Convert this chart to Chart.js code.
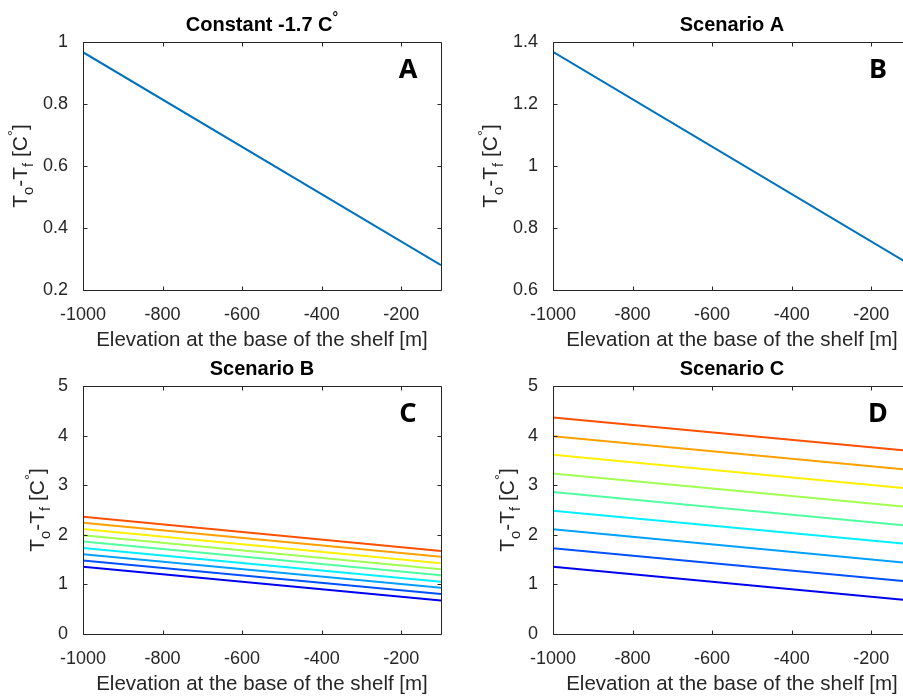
<!DOCTYPE html>
<html>
<head>
<meta charset="utf-8">
<script src="https://cdn.jsdelivr.net/npm/chart.js@4"></script>
<style>
  html, body { margin: 0; padding: 0; background: #fff; overflow: hidden; width: 903px; height: 697px; }
  .panel { position: absolute; width: 450px; height: 360px; }
</style>
</head>
<body>
<div class="panel" style="left:0;top:0"><canvas id="chartA" width="450" height="360"></canvas></div>
<div class="panel" style="left:470px;top:0"><canvas id="chartB" width="450" height="360"></canvas></div>
<div class="panel" style="left:0;top:344px"><canvas id="chartC" width="450" height="360"></canvas></div>
<div class="panel" style="left:470px;top:344px"><canvas id="chartD" width="450" height="360"></canvas></div>
<script>
// elevation at the base of the shelf (x), the lines are straight so the two ends are enough
const elevation = [-1000, -100];
const xTicks = [-1000, -800, -600, -400, -200];

// panel A : constant -1.7 C
const constantDiff = [0.967, 0.28];
const yTicksA = [0.2, 0.4, 0.6, 0.8, 1];

// panel B : scenario A
const scenarioADiff = [1.368, 0.68];
const yTicksB = [0.6, 0.8, 1, 1.2, 1.4];

// panels C and D : 9 lines each, value at -1000 m and at -100 m
const scenarioBDeep    = [1.354, 1.480, 1.609, 1.736, 1.863, 1.990, 2.118, 2.245, 2.365];
const scenarioBShallow = [0.676, 0.804, 0.931, 1.052, 1.186, 1.307, 1.428, 1.555, 1.675];
const scenarioCDeep    = [1.354, 1.730, 2.112, 2.486, 2.862, 3.238, 3.612, 3.988, 4.364];
const scenarioCShallow = [0.676, 1.053, 1.427, 1.808, 2.178, 2.553, 2.930, 3.305, 3.687];
const yTicksCD = [0, 1, 2, 3, 4, 5];

const lineColors = ['#0000f0', '#0050ff', '#00a0ff', '#00f0ff', '#50ffa0',
                    '#a0ff50', '#fff000', '#ffa000', '#ff5000'];
const axisColor = '#262626';
const tickFont = { family: 'Liberation Sans, Arial, sans-serif', size: 18 };

// draws text with sub/superscript parts
function drawRich(ctx, parts, x, y, size, bold) {
  const fontOf = (s) => (bold ? 'bold ' : '') + s + 'px "Liberation Sans", Arial, sans-serif';
  let total = 0;
  parts.forEach(p => {
    ctx.font = fontOf(p.sub || p.sup ? size * 0.7 : size);
    p.w = ctx.measureText(p.t).width;
    total += p.w;
  });
  let cx = x - total / 2;
  ctx.textAlign = 'left';
  ctx.textBaseline = 'alphabetic';
  parts.forEach(p => {
    ctx.font = fontOf(p.sub || p.sup ? size * 0.7 : size);
    let dy = 0;
    if (p.sub) dy = size * 0.3;
    if (p.sup) dy = -size * 0.45;
    ctx.fillText(p.t, cx, y + dy);
    cx += p.w;
  });
}

const yLabelParts = [{ t: 'T' }, { t: 'o', sub: true }, { t: '-T' }, { t: 'f', sub: true },
                     { t: ' [C' }, { t: '°', sup: true }, { t: ']' }];

const framePlugin = {
  id: 'frame',
  afterDraw(chart, args, opts) {
    const { ctx, chartArea: a, scales: { x, y } } = chart;
    ctx.save();
    ctx.strokeStyle = axisColor;
    ctx.lineWidth = 1;
    const L = Math.round(a.left) + 0.5, R = Math.round(a.right) + 0.5;
    const T = Math.round(a.top) + 0.5, B = Math.round(a.bottom) + 0.5;
    ctx.beginPath();
    ctx.rect(L, T, R - L, B - T);
    x.ticks.forEach(t => {
      const px = Math.round(x.getPixelForValue(t.value)) + 0.5;
      ctx.moveTo(px, B); ctx.lineTo(px, B - 4);
      ctx.moveTo(px, T); ctx.lineTo(px, T + 4);
    });
    y.ticks.forEach(t => {
      const py = Math.round(y.getPixelForValue(t.value)) + 0.5;
      ctx.moveTo(L, py); ctx.lineTo(L + 4, py);
      ctx.moveTo(R, py); ctx.lineTo(R - 4, py);
    });
    ctx.stroke();

    const midX = (a.left + a.right) / 2;
    // title
    ctx.fillStyle = '#000';
    drawRich(ctx, opts.title, midX, a.top - 11, 20, true);
    // x label
    ctx.fillStyle = axisColor;
    drawRich(ctx, [{ t: 'Elevation at the base of the shelf [m]' }], midX, a.bottom + 56, 20.5, false);
    // y label
    ctx.save();
    ctx.translate(a.left - opts.yLabelGap, (a.top + a.bottom) / 2);
    ctx.rotate(-Math.PI / 2);
    drawRich(ctx, yLabelParts, 0, 0, 21, false);
    ctx.restore();
    // panel letter
    ctx.fillStyle = '#000';
    ctx.font = 'bold 27px "Noto Sans", "DejaVu Sans", sans-serif';
    ctx.textAlign = 'center';
    ctx.textBaseline = 'middle';
    ctx.fillText(opts.letter, a.right - 33, a.top + 28);
    ctx.restore();
  }
};

function makeChart(id, datasets, yMin, yMax, yTicks, title, letter, yLabelGap) {
  return new Chart(document.getElementById(id), {
    type: 'line',
    data: { datasets },
    plugins: [framePlugin],
    options: {
      responsive: false,
      devicePixelRatio: 1,
      animation: false,
      layout: { padding: { top: 42, right: 9, bottom: 0, left: 0 } },
      plugins: {
        legend: { display: false },
        tooltip: { enabled: false },
        frame: { title, letter, yLabelGap }
      },
      elements: { point: { radius: 0 }, line: { borderWidth: 2, tension: 0 } },
      scales: {
        x: {
          type: 'linear', min: -1000, max: -100,
          grid: { display: false }, border: { display: false },
          afterBuildTicks: s => { s.ticks = xTicks.map(v => ({ value: v })); },
          afterFit: s => { s.height = 70; },
          ticks: { color: axisColor, font: tickFont, padding: 6, maxRotation: 0, callback: v => String(v) }
        },
        y: {
          type: 'linear', min: yMin, max: yMax,
          grid: { display: false }, border: { display: false },
          afterBuildTicks: s => { s.ticks = yTicks.map(v => ({ value: v })); },
          afterFit: s => { s.width = 83; },
          ticks: { color: axisColor, font: tickFont, padding: 7, callback: v => String(v) }
        }
      }
    }
  });
}

function pts(vals) {
  return elevation.map((e, i) => ({ x: e, y: vals[i] }));
}

function fan(deep, shallow) {
  return deep.map((d, i) => ({
    data: pts([d, shallow[i]]),
    borderColor: lineColors[i]
  }));
}

makeChart('chartA', [{ data: pts(constantDiff), borderColor: '#0072bd' }], 0.2, 1, yTicksA,
  [{ t: 'Constant -1.7 C' }, { t: '°', sup: true }], 'A', 56);
makeChart('chartB', [{ data: pts(scenarioADiff), borderColor: '#0072bd' }], 0.6, 1.4, yTicksB,
  [{ t: 'Scenario A' }], 'B', 56);
makeChart('chartC', fan(scenarioBDeep, scenarioBShallow), 0, 5, yTicksCD,
  [{ t: 'Scenario B' }], 'C', 39);
makeChart('chartD', fan(scenarioCDeep, scenarioCShallow), 0, 5, yTicksCD,
  [{ t: 'Scenario C' }], 'D', 39);
</script>
</body>
</html>
